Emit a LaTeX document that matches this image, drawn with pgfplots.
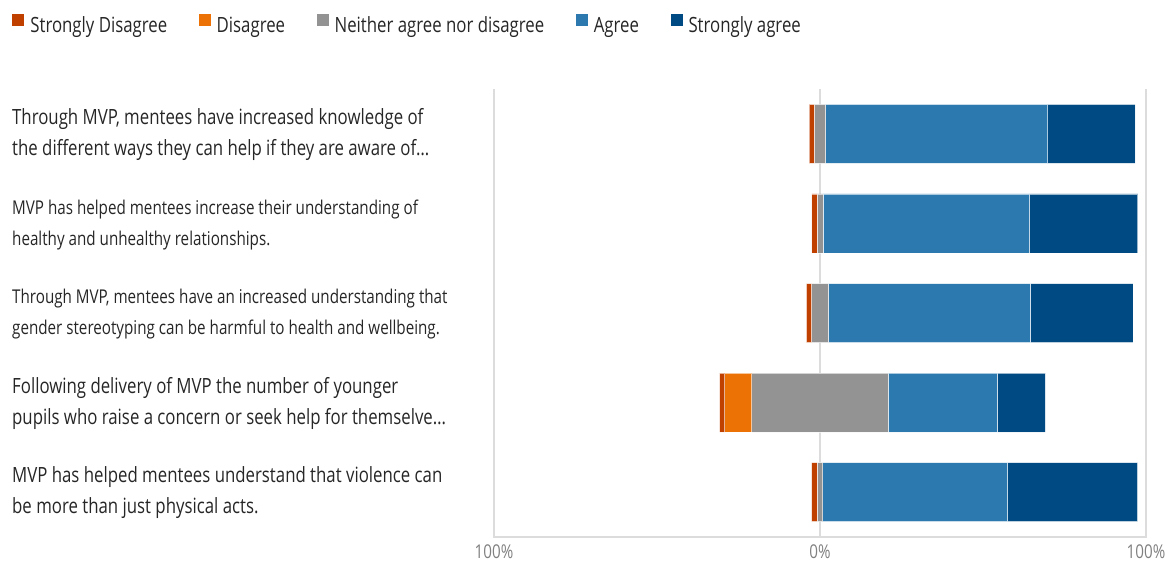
\documentclass[border=0pt]{standalone}
\usepackage{fontspec}
\setmainfont{Open Sans}[FakeStretch=0.8]
\usepackage{pgfplots}
\pgfplotsset{compat=1.18}
\usepackage{pgfplotstable}

\definecolor{cSD}{HTML}{C04000}
\definecolor{cD}{HTML}{EC7205}
\definecolor{cN}{HTML}{939393}
\definecolor{cA}{HTML}{2C79B0}
\definecolor{cSA}{HTML}{004A83}
\definecolor{gridc}{HTML}{DCDCDC}
\definecolor{txt}{HTML}{262626}
\definecolor{ticktxt}{HTML}{808080}

% The x axis is shifted by +100 (0% sits at x=100).
% off = invisible lead-in so that the neutral block is centred on 0%
\pgfplotstableread{
y off SD D N A SA
0 96.7 1.6 0 3.4 68.2 26.8
1 97.5 1.6 0 1.8 63.4 33.2
2 95.8 1.6 0 5.2 61.9 31.5
3 69.2 1.6 8.3 41.8 33.4 14.8
4 97.45 1.7 0 1.7 56.7 39.9
}\datatable

\newcommand{\lab}[3]{{\fontsize{#1}{31}\selectfont\begin{tabular}{@{}l@{}}#2\\#3\end{tabular}}}

\begin{document}
\begin{tikzpicture}
\begin{axis}[
  at={(0,0)}, anchor=south west,
  scale only axis, width=652pt, height=448pt,
  xmin=0, xmax=200, ymin=-0.5, ymax=4.5, y dir=reverse,
  xbar stacked, bar width=59pt, bar shift=0pt,
  axis line style={draw=none}, major tick length=0pt,
  xtick={0,100,200}, xticklabels={100\%,0\%,100\%},
  xticklabel style={inner sep=0pt, yshift=-8pt, text=ticktxt, font=\fontsize{19}{22}\selectfont},
  ytick={0,1,2,3,4},
  yticklabels={
    {\lab{21}{Through MVP, mentees have increased knowledge of}{the different ways they can help if they are aware of\ldots}},
    {\lab{19}{MVP has helped mentees increase their understanding of}{healthy and unhealthy relationships.}},
    {\lab{19}{Through MVP, mentees have an increased understanding that}{gender stereotyping can be harmful to health and wellbeing.}},
    {\lab{21}{Following delivery of MVP the number of younger}{pupils who raise a concern or seek help for themselve\ldots}},
    {\lab{21}{MVP has helped mentees understand that violence can}{be more than just physical acts.}}
  },
  yticklabel style={anchor=west, xshift=-482pt, inner sep=0pt, text=txt},
  every axis plot/.append style={draw=white, draw opacity=0.6, line width=0.8pt},
  legend columns=5,
  legend style={at={(-0.739,1.145)}, anchor=west, draw=none, fill=none,
    inner sep=0pt, font=\fontsize{21}{24}\selectfont, text=txt,
    nodes={inner sep=0pt},
    /tikz/every odd column/.append style={column sep=6pt},
    /tikz/every even column/.append style={column sep=31.5pt}},
  legend image code/.code={\fill[#1] (0pt,0pt) rectangle (12pt,12pt);},
  clip=false,
]
\addlegendimage{fill=cSD, draw=none}
\addlegendentry{Strongly Disagree}
\addlegendimage{fill=cD, draw=none}
\addlegendentry{Disagree}
\addlegendimage{fill=cN, draw=none}
\addlegendentry{Neither agree nor disagree}
\addlegendimage{fill=cA, draw=none}
\addlegendentry{Agree}
\addlegendimage{fill=cSA, draw=none}
\addlegendentry{Strongly agree}
\addplot[draw=none, fill=none] table[x=off, y=y] {\datatable};
\addplot[fill=cSD] table[x=SD, y=y] {\datatable};
\addplot[fill=cD] table[x=D, y=y] {\datatable};
\addplot[fill=cN] table[x=N, y=y] {\datatable};
\addplot[fill=cA] table[x=A, y=y] {\datatable};
\addplot[fill=cSA] table[x=SA, y=y] {\datatable};
\draw[gridc, line width=1.5pt] (axis cs:100,-0.5) -- (axis cs:100,4.5);
\draw[gridc, line width=1.5pt] (axis description cs:0,1) -- (axis description cs:0,0) -- (axis description cs:1,0) -- (axis description cs:1,1);
\end{axis}
\pgfresetboundingbox
\path[use as bounding box] (-494pt,-25pt) rectangle (675pt,537pt);
\end{tikzpicture}
\end{document}
